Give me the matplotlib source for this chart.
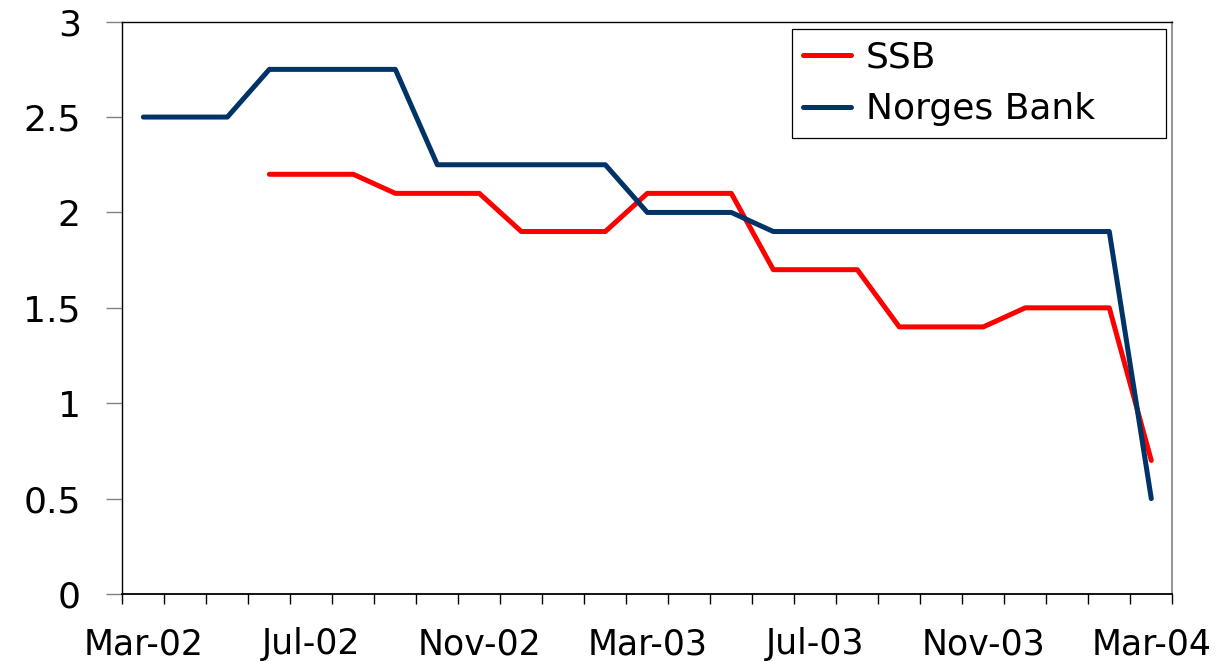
import numpy as np
import matplotlib
matplotlib.use("Agg")
import matplotlib.pyplot as plt
from matplotlib.ticker import FixedLocator, FuncFormatter

months = ["Mar-02", "Apr-02", "May-02", "Jun-02", "Jul-02", "Aug-02", "Sep-02",
          "Oct-02", "Nov-02", "Dec-02", "Jan-03", "Feb-03", "Mar-03", "Apr-03",
          "May-03", "Jun-03", "Jul-03", "Aug-03", "Sep-03", "Oct-03", "Nov-03",
          "Dec-03", "Jan-04", "Feb-04", "Mar-04"]
ssb = [np.nan, np.nan, np.nan, 2.2, 2.2, 2.2, 2.1, 2.1, 2.1, 1.9, 1.9, 1.9,
       2.1, 2.1, 2.1, 1.7, 1.7, 1.7, 1.4, 1.4, 1.4, 1.5, 1.5, 1.5, 0.7]
norges_bank = [2.5, 2.5, 2.5, 2.75, 2.75, 2.75, 2.75, 2.25, 2.25, 2.25, 2.25, 2.25,
               2.0, 2.0, 2.0, 1.9, 1.9, 1.9, 1.9, 1.9, 1.9, 1.9, 1.9, 1.9, 0.5]
yticks = [0, 0.5, 1, 1.5, 2, 2.5, 3]

plt.rcParams['font.family'] = ['DejaVu Sans']
FS = 26

fig = plt.figure(figsize=(12.31, 6.61), dpi=100)
ax = fig.add_axes([0.0994, 0.1014, 0.9523 - 0.0994, 0.9672 - 0.1014])

x = np.arange(len(months))
ax.plot(x, ssb, color='#FF0000', lw=3.6, solid_capstyle='round',
        solid_joinstyle='round', label='SSB', zorder=3)
ax.plot(x, norges_bank, color='#003366', lw=3.6, solid_capstyle='round',
        solid_joinstyle='round', label='Norges Bank', zorder=3)

ax.set_xlim(-0.5, len(months) - 0.5)
ax.set_ylim(0, 3)

# x axis: ticks at category boundaries, labels every 4 months
ax.xaxis.set_minor_locator(FixedLocator(np.arange(-0.5, len(months), 1.0)))
ax.set_xticks(x[::4])
ax.set_xticklabels(months[::4], fontsize=FS - 1)
ax.tick_params(axis='x', which='major', length=0, pad=24)
ax.tick_params(axis='x', which='minor', length=7.2, width=1.0, color='black',
               direction='out')

ax.set_yticks(yticks)
ax.yaxis.set_major_formatter(FuncFormatter(lambda v, p: f"{v:g}"))
ax.tick_params(axis='y', which='major', length=11.5, width=1.0, color='#808080',
               direction='out', pad=18.5, labelsize=FS)

for s in ['left', 'bottom', 'top']:
    ax.spines[s].set_color('black')
    ax.spines[s].set_linewidth(1.0)
ax.spines['bottom'].set_linewidth(1.3)
ax.spines['right'].set_color('#808080')
ax.spines['right'].set_linewidth(1.2)

leg = ax.legend(loc='upper left', bbox_to_anchor=(0.6375, 0.800, 0.3565, 0.1867),
                mode='expand', fontsize=FS, frameon=True, fancybox=False,
                edgecolor='black', framealpha=1, handlelength=1.33,
                handletextpad=0.4, labelspacing=0.48, borderpad=0.32,
                borderaxespad=0)
leg.get_frame().set_linewidth(0.9)

fig.savefig("out.png", dpi=100)
